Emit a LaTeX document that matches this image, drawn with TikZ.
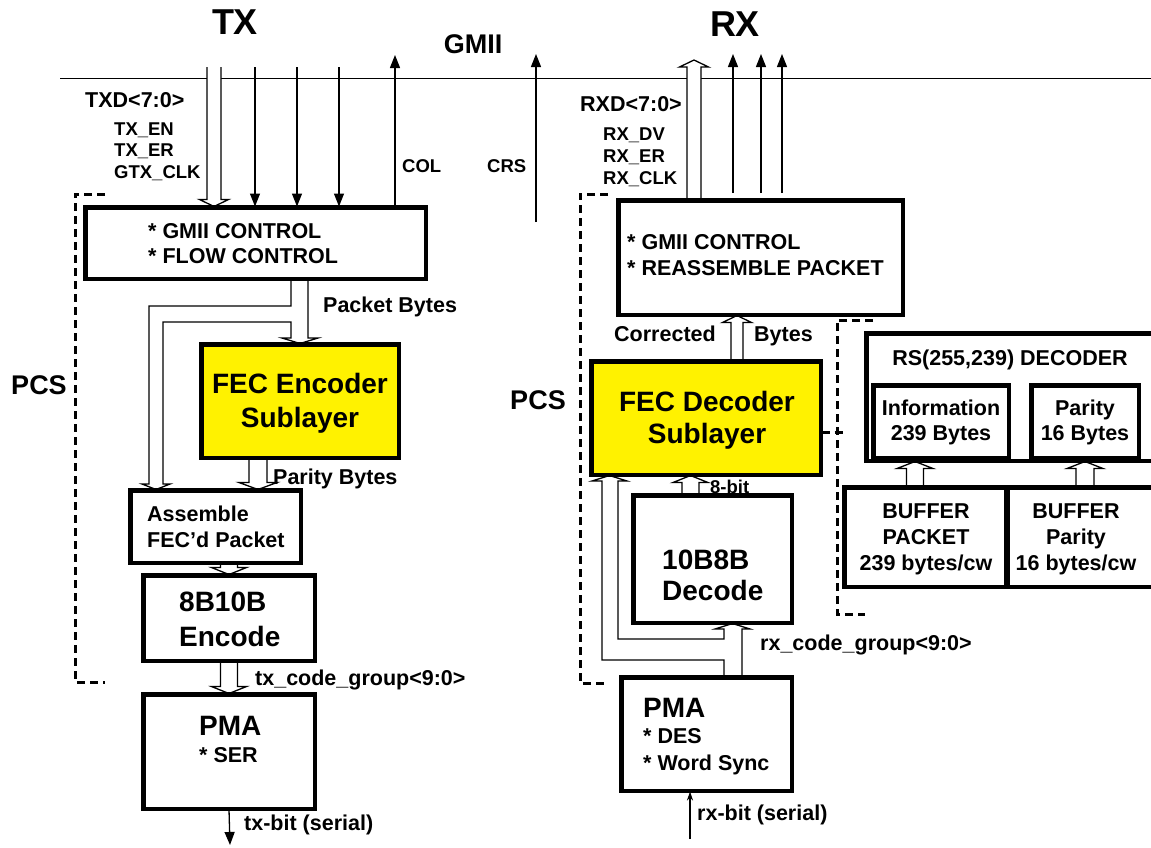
\documentclass[tikz,border=0pt]{standalone}
\usepackage{fontspec}
\setmainfont{Liberation Sans}
\usetikzlibrary{arrows.meta,calc}

\begin{document}
\begin{tikzpicture}[x=1pt,y=-1pt,
  box/.style={draw, line width=3pt, inner sep=0pt},
  yel/.style={box, fill=yellow},
  tbig/.style={inner sep=0pt, font=\fontsize{36}{36}\selectfont\bfseries, text height=25.8pt, text depth=0pt},
  tmid/.style={inner sep=0pt, font=\fontsize{27}{27}\selectfont\bfseries, text height=19.3pt, text depth=0pt},
  tblk/.style={inner sep=0pt, font=\fontsize{28}{28}\selectfont\bfseries, text height=20pt, text depth=0pt},
  tlab/.style={inner sep=0pt, font=\fontsize{21.5}{21.5}\selectfont\bfseries, text height=15.4pt, text depth=0pt},
  tsml/.style={inner sep=0pt, font=\fontsize{18.5}{18.5}\selectfont\bfseries, text height=13.2pt, text depth=0pt},
  sig/.style={line width=1.3pt, -{Triangle[length=13pt,width=10pt]}},
  busline/.style={draw, fill=white, line width=1.3pt, line join=miter},
  bus/.style 2 args={busline,
    to path={let \p1=(\tikztostart), \p2=(\tikztotarget), \n1={sign(\y2-\y1)} in
      ({\x1-#1/2*1pt},\y1) -- ({\x1-#1/2*1pt},{\y2-\n1*7pt}) -- ({\x1-#2/2*1pt},{\y2-\n1*7pt})
      -- (\x1,\y2) -- ({\x1+#2/2*1pt},{\y2-\n1*7pt}) -- ({\x1+#1/2*1pt},{\y2-\n1*7pt})
      -- ({\x1+#1/2*1pt},\y1)}},
  pcsline/.style={line width=3pt, dash pattern=on 8pt off 5pt},
]
\useasboundingbox (0,0) rectangle (1151,847);
\fill[white] (0,0) rectangle (1151,847);
\clip (0,0) rectangle (1151,847);

% ---------- free ends of the interface signals ----------
\coordinate (txin) at (214,67);
\coordinate (txen) at (255,67);
\coordinate (txer) at (297,67);
\coordinate (gtxclk) at (339,67);
\coordinate (colend) at (395,55);
\coordinate (crsbot) at (536,222);
\coordinate (crsend) at (536,54);
\coordinate (rxdend) at (694,60);
\coordinate (rxdvbot) at (733,193);
\coordinate (rxdvend) at (733,54);
\coordinate (rxerbot) at (761,193);
\coordinate (rxerend) at (761,54);
\coordinate (rxclkbot) at (782,193);
\coordinate (rxclkend) at (782,54);
\coordinate (txbitend) at (230,845);
\coordinate (rxbitbot) at (690,839);
\coordinate (rsbr) at (847,432);

% ---------- GMII boundary ----------
\draw[line width=1pt] (60,78) -- (1151,78);

% ---------- PCS groupings ----------
\draw[pcsline] (105,194) -- (75,194) -- (75,682) -- (105,682);
\draw[pcsline] (608,194) -- (580,194) -- (580,683) -- (608,683);
\draw[pcsline] (873,320) -- (837,320) -- (837,614) -- (865,614);

% ---------- boxes ----------
\node[box, minimum width=339pt, minimum height=70pt] (tgmii) at (255.5,243) {};
\node[yel, minimum width=196pt, minimum height=112pt] (fecenc) at (300,401) {};
\node[box, minimum width=169pt, minimum height=71pt] (assemble) at (215.5,526.5) {};
\node[box, minimum width=170pt, minimum height=84pt] (enc8b) at (229,618) {};
\node[box, minimum width=170pt, minimum height=113pt] (tpma) at (229,751.5) {};

\node[box, minimum width=283pt, minimum height=113pt] (rgmii) at (760.5,257.5) {};
\node[yel, minimum width=228pt, minimum height=112pt] (fecdec) at (706,418) {};
\node[box, minimum width=157pt, minimum height=126pt] (dec10b) at (712.5,559) {};
\node[box, minimum width=169pt, minimum height=112pt] (rpma) at (706.5,734) {};

\node[box, minimum width=293pt, minimum height=126pt] (rsdec) at (1013.5,397) {};
\node[box, minimum width=134pt, minimum height=71pt] (info) at (941,421.5) {};
\node[box, minimum width=106pt, minimum height=71pt] (parity) at (1085,421.5) {};
\node[box, minimum width=162pt, minimum height=98pt] (bufpkt) at (926,537) {};
\node[box, minimum width=153pt, minimum height=98pt] (bufpar) at (1083.5,537) {};

% ---------- GMII signals ----------
\draw[bus={14}{29}] (txin) to (tgmii.north -| txin);
\draw[sig] (txen) -- (tgmii.north -| txen);
\draw[sig] (txer) -- (tgmii.north -| txer);
\draw[sig] (gtxclk) -- (tgmii.north -| gtxclk);
\draw[sig] (tgmii.north -| colend) -- (colend);
\draw[sig] (crsbot) -- (crsend);
\draw[bus={14}{29}] (rgmii.north -| rxdend) to (rxdend);
\draw[sig] (rxdvbot) -- (rxdvend);
\draw[sig] (rxerbot) -- (rxerend);
\draw[sig] (rxclkbot) -- (rxclkend);

% ---------- transmit data path ----------
\draw[busline] (tgmii.south -| 291,0) -- (291,306) -- (149,306) -- (149,484) -- (142,484)
  -- (assemble.north -| 156,0) -- (170,484) -- (163,484) -- (163,322) -- (291,322)
  -- (291,338) -- (282,338) -- (fecenc.north) -- (318,338) -- (308,338) -- (tgmii.south -| 308,0);
\draw[bus={18}{38}] ([xshift=-42pt]fecenc.south) to (assemble.north -| 258,0);
\draw[bus={17}{35}] (assemble.south -| enc8b.north) to (enc8b.north);
\draw[bus={17}{35}] (enc8b.south) to (tpma.north);
\draw[sig] (tpma.south) -- (txbitend);

% ---------- receive data path ----------
\draw[busline] (rpma.north -| 724,0) -- (724,660) -- (602,660) -- (602,481) -- (592,481)
  -- (fecdec.south -| 609.5,0) -- (627,481) -- (618,481) -- (618,639) -- (724,639)
  -- (724,629) -- (715,629) -- (dec10b.south -| 732.5,0) -- (750,629) -- (742,629)
  -- (rpma.north -| 742,0);
\draw[bus={17}{35}] (dec10b.north -| 690.5,0) to (fecdec.south -| 690.5,0);
\draw[bus={12}{29}] (fecdec.north -| 737,0) to (rgmii.south -| 737,0);
\draw[line width=1.3pt, -{Stealth[length=9pt,width=6pt]}] (rxbitbot) -- (rpma.south -| rxbitbot);
\draw[pcsline] ([yshift=-14pt]fecdec.east) -- (rsbr);
\draw[bus={17}{36}] (bufpkt.north -| 915,0) to (rsdec.south -| 915,0);
\draw[bus={18}{36}] (bufpar.north -| 1085,0) to (rsdec.south -| 1085,0);

% ---------- redraw box outlines over the bus ends ----------
\foreach \b in {tgmii,fecenc,assemble,enc8b,tpma,rgmii,fecdec,dec10b,rpma,rsdec,info,parity,bufpkt,bufpar}
  \draw[line width=3pt] (\b.north west) rectangle (\b.south east);

% ---------- titles ----------
\node[tbig] (ttx) at (235,22) {TX};
\node[tmid] (tgmiilbl) at (473,44) {GMII};
\node[tbig] (trx) at (735,24) {RX};
\node[tmid] (pcsl) at (39,385) {PCS};
\node[tmid] (pcsr) at (538,400) {PCS};

% ---------- signal names ----------
\node[tlab, anchor=west] (ltxd) at (85,100) {TXD<7:0>};
\node[tsml, anchor=west] (ltxen) at (114,129) {TX\_EN};
\node[tsml, anchor=west] (ltxer) at (114,150) {TX\_ER};
\node[tsml, anchor=west] (lgtx) at (114,172) {GTX\_CLK};
\node[tsml, anchor=west] (lcol) at (402,166) {COL};
\node[tsml, anchor=west] (lcrs) at (487,166) {CRS};
\node[tlab, anchor=west] (lrxd) at (580,104) {RXD<7:0>};
\node[tsml, anchor=west] (lrxdv) at (603,134) {RX\_DV};
\node[tsml, anchor=west] (lrxer) at (603,156) {RX\_ER};
\node[tsml, anchor=west] (lrxclk) at (603,178) {RX\_CLK};
\node[tlab, anchor=west] (lpkt) at (323,305) {Packet Bytes};
\node[tlab, anchor=west] (lpar) at (273,477) {Parity Bytes};
\node[tlab, anchor=west] (lcorr) at (614,334) {Corrected};
\node[tlab, anchor=west] (lbytes) at (754,334) {Bytes};
\node[tsml, anchor=west] (l8bit) at (710,487) {8-bit};
\node[tlab, anchor=west] (ltxcg) at (255,678) {tx\_code\_group<9:0>};
\node[tlab, anchor=west] (lrxcg) at (760,643) {rx\_code\_group<9:0>};
\node[tlab, anchor=west] (ltxbit) at (244,823) {tx-bit (serial)};
\node[tlab, anchor=west] (lrxbit) at (697,813) {rx-bit (serial)};

% ---------- box contents ----------
\node[tlab, anchor=west] (tg1) at (148,231) {* GMII CONTROL};
\node[tlab, anchor=west] (tg2) at (148,256) {* FLOW CONTROL};
\node[tblk] (fe1) at (300,383) {FEC Encoder};
\node[tblk] (fe2) at (300,417) {Sublayer};
\node[tlab, anchor=west] (as1) at (147,514) {Assemble};
\node[tlab, anchor=west] (as2) at (147,540) {FEC'd Packet};
\node[tblk, anchor=west] (en1) at (179,601) {8B10B};
\node[tblk, anchor=west] (en2) at (179,636) {Encode};
\node[tblk, anchor=west] (tp1) at (199,725) {PMA};
\node[tlab, anchor=west] (tp2) at (199,755) {* SER};

\node[tlab, anchor=west] (rg1) at (627,242) {* GMII CONTROL};
\node[tlab, anchor=west] (rg2) at (627,268) {* REASSEMBLE PACKET};
\node[tblk] (fd1) at (707,401) {FEC Decoder};
\node[tblk] (fd2) at (707,433) {Sublayer};
\node[tblk, anchor=west] (dc1) at (662,559) {10B8B};
\node[tblk, anchor=west] (dc2) at (662,590) {Decode};
\node[tblk, anchor=west] (rp1) at (643,707) {PMA};
\node[tlab, anchor=west] (rp2) at (643,736) {* DES};
\node[tlab, anchor=west] (rp3) at (643,763) {* Word Sync};

\node[tlab] (rs1) at (1010,358) {RS(255,239) DECODER};
\node[tlab] (in1) at (941,408) {Information};
\node[tlab] (in2) at (941,433) {239 Bytes};
\node[tlab] (pa1) at (1085,408) {Parity};
\node[tlab] (pa2) at (1085,433) {16 Bytes};
\node[tlab] (bp1) at (926,511) {BUFFER};
\node[tlab] (bp2) at (926,537) {PACKET};
\node[tlab] (bp3) at (926,563) {239 bytes/cw};
\node[tlab] (bq1) at (1076,511) {BUFFER};
\node[tlab] (bq2) at (1076,537) {Parity};
\node[tlab] (bq3) at (1076,563) {16 bytes/cw};
\end{tikzpicture}
\end{document}
